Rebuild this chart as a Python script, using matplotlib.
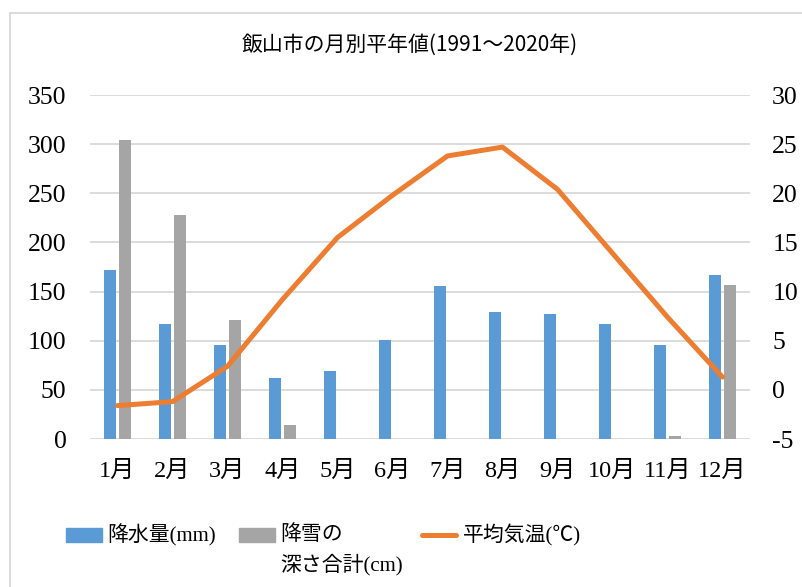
import numpy as np
import matplotlib
matplotlib.use("Agg")
import matplotlib.pyplot as plt
from matplotlib.patches import Rectangle
from matplotlib.lines import Line2D
from matplotlib.ticker import FuncFormatter

# 飯山市の月別平年値 (1991-2020)
months = ["1月", "2月", "3月", "4月", "5月", "6月",
          "7月", "8月", "9月", "10月", "11月", "12月"]
precip = [172, 117, 96, 62, 69, 101, 156, 129, 127, 117, 96, 167]   # 降水量 (mm)
snow = [304, 228, 121, 14, 0, 0, 0, 0, 0, 0, 3, 157]               # 降雪の深さ合計 (cm)
temp = [-1.6, -1.2, 2.4, 9.2, 15.5, 19.8, 23.8, 24.7, 20.4, 13.9, 7.4, 1.3]  # 平均気温 (℃)

C_RAIN, C_SNOW, C_TEMP = "#5B9BD5", "#A5A5A5", "#ED7D31"

serif = ["Liberation Serif", "Noto Sans CJK JP"]
gothic = ["Noto Sans CJK JP", "DejaVu Sans"]
plt.rcParams["font.family"] = serif

W, H = 803, 587
fig = plt.figure(figsize=(W / 100, H / 100), dpi=100)


def fx(px):
    return px / W


def fy(py):
    return 1 - py / H


ax = fig.add_axes([fx(90), fy(439), fx(660), 344 / H])
ax2 = ax.twinx()

x = np.arange(len(months))
w = 0.224
ax.bar(x - 0.14, precip, w, color=C_RAIN, zorder=3)
ax.bar(x + 0.14, snow, w, color=C_SNOW, zorder=3)
ax2.plot(x, temp, color=C_TEMP, lw=3.6, solid_capstyle="round", zorder=4)

ax.set_xlim(-0.5, len(months) - 0.5)
ax.set_ylim(0, 350)
ax.set_yticks(np.arange(0, 351, 50))
ax2.set_ylim(-5, 30)
ax2.set_yticks(np.arange(-5, 31, 5))
ax2.yaxis.set_major_formatter(FuncFormatter(lambda v, p: f"{v:.0f}"))
ax.set_xticks(x)
ax.set_xticklabels(months)

ax.grid(axis="y", color="#D9D9D9", lw=1.3, zorder=0)
ax.set_axisbelow(True)
for a in (ax, ax2):
    for s in a.spines.values():
        s.set_visible(False)
ax.tick_params(axis="y", length=0, pad=17, labelsize=18.5)
ax.tick_params(axis="x", length=0, pad=16, labelsize=17.5)
ax2.tick_params(axis="y", length=0, pad=16, labelsize=18.5)

fig.text(fx(410), fy(45), "飯山市の月別平年値(1991～2020年)", family=gothic,
         fontsize=15, ha="center", va="center")

# legend, drawn by hand so the handles sit on the first text line
ly = fy(535)
fs = 15
fig.add_artist(Rectangle((fx(66), fy(542)), fx(36), 14 / H, color=C_RAIN))
fig.text(fx(107), ly, "降水量(mm)", fontsize=fs, va="center")
fig.add_artist(Rectangle((fx(239), fy(542)), fx(36), 14 / H, color=C_SNOW))
fig.text(fx(280), ly, "降雪の", fontsize=fs, va="center")
fig.text(fx(280), fy(565), "深さ合計(cm)", fontsize=fs, va="center")
fig.add_artist(Line2D([fx(422), fx(456)], [ly, ly], color=C_TEMP, lw=3.6,
                      solid_capstyle="round"))
fig.text(fx(463), ly, "平均気温(℃)", fontsize=fs, va="center")

fig.patches.append(Rectangle((fx(10), -0.05), 1.0, fy(13) + 0.05,
                             transform=fig.transFigure, fill=False,
                             edgecolor="#D9D9D9", lw=1.3))

fig.savefig("out.png", dpi=100)
